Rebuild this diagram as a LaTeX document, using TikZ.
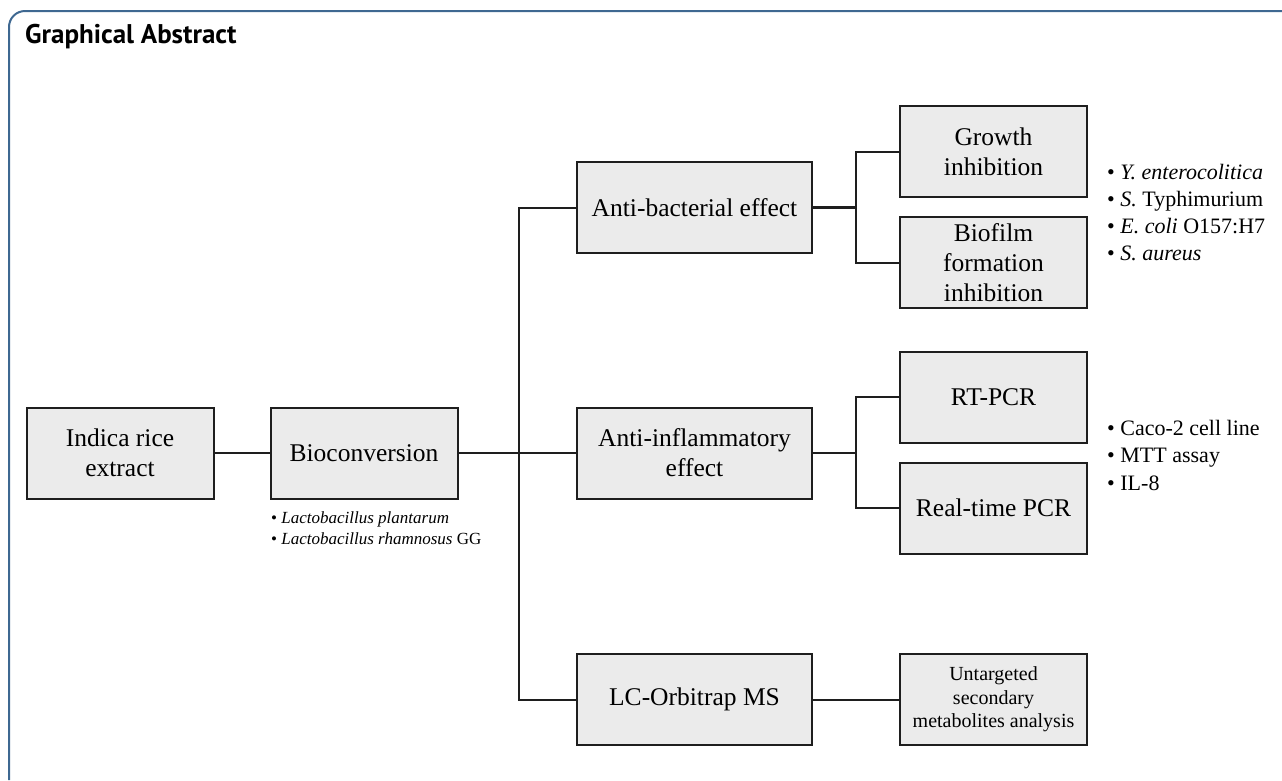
\documentclass[tikz,border=0pt]{standalone}
\usepackage{fontspec}
\setmainfont{Liberation Serif}
\newfontfamily\titlefont{PT Sans}
\definecolor{boxgray}{RGB}{235,235,235}
\definecolor{framecol}{RGB}{62,104,145}
\definecolor{edgecol}{RGB}{30,30,30}
\tikzset{
  box/.style={draw=edgecol, line width=2pt, fill=boxgray, minimum width=187pt,
    minimum height=91pt, inner sep=0pt, align=center,
    font=\fontsize{25.5}{30}\selectfont},
  midbox/.style={box, minimum width=235pt},
  smallbox/.style={box, font=\fontsize{20}{23.5}\selectfont},
  conn/.style={line width=2pt, draw=edgecol},
  thick conn/.style={line width=2.8pt, draw=edgecol},
  list/.style={align=left, inner sep=0pt, anchor=west},
}
\begin{document}
\begin{tikzpicture}[x=1pt,y=-1pt]
\useasboundingbox (0,0) rectangle (1282,780);
\draw[framecol, line width=2pt, rounded corners=16pt] (9,780) -- (9,11) -- (1282,11);
\node[anchor=west, inner sep=0pt] (title) at (25,37)
  {\titlefont\bfseries\fontsize{27}{31}\selectfont Graphical Abstract};

\node[box] (ind) at (120,453) {Indica rice\\extract};
\node[box] (bio) at (364,453) {Bioconversion};
\node[midbox] (ab) at (694.5,207.5) {Anti-bacterial effect};
\node[midbox] (ai) at (694.5,453) {Anti-inflammatory\\effect};
\node[midbox] (lc) at (694.5,699.5) {LC-Orbitrap MS};
\node[box] (gr) at (993.5,151.5) {Growth\\inhibition};
\node[box] (bf) at (993.5,262.5) {Biofilm\\formation\\inhibition};
\node[box] (rt) at (993.5,397) {RT-PCR};
\node[box] (rp) at (993.5,508) {Real-time PCR};
\node[smallbox] (un) at (993.5,699.5) {Untargeted\\secondary\\metabolites analysis};

\coordinate (j) at (519,453);
\coordinate (jab) at (856,207.5);
\coordinate (jai) at (856,453);

\draw[conn] (ind) -- (bio);
\draw[conn] (bio) -- (ai);
\draw[conn] (ab.west) -| (j) |- (lc.west);
\draw[thick conn] (ab) -- (jab);
\draw[conn] (gr.west) -| (jab) |- (bf.west);
\draw[thick conn] (ai) -- (jai);
\draw[conn] (rt.west) -| (jai) |- (rp.west);
\draw[conn] (lc) -- (un);

\node[list, font=\fontsize{17}{21}\selectfont] (biolist) at (271,528.5)
  {\textbullet\ \textit{Lactobacillus plantarum}\\
   \textbullet\ \textit{Lactobacillus rhamnosus} GG};
\node[list, font=\fontsize{22}{27}\selectfont] (ablist) at (1107,212.5)
  {\textbullet\ \textit{Y. enterocolitica}\\
   \textbullet\ \textit{S.} Typhimurium\\
   \textbullet\ \textit{E. coli} O157:H7\\
   \textbullet\ \textit{S. aureus}};
\node[list, font=\fontsize{22}{27.5}\selectfont] (ailist) at (1107,455)
  {\textbullet\ Caco-2 cell line\\
   \textbullet\ MTT assay\\
   \textbullet\ IL-8};
\end{tikzpicture}
\end{document}
